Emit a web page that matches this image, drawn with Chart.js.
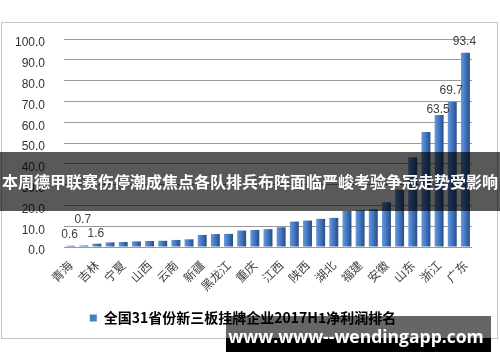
<!DOCTYPE html>
<html>
<head>
<meta charset="utf-8">
<script src="https://cdn.jsdelivr.net/npm/chart.js@4"></script>
<style>
  html, body { margin: 0; padding: 0; background: #fff; }
  #wrap { position: relative; width: 500px; height: 362px; overflow: hidden; }
  #frame { position: absolute; left: 1px; top: 22px; width: 495px; height: 315px; border: 1px solid #c4c4c4; }
  canvas { position: absolute; left: 0; top: 0; }
  #banner {
    position: absolute; left: 0; top: 152px; width: 500px; height: 59px;
    background: rgba(0, 0, 0, 0.65); color: #fff;
    font: bold 16px "Noto Sans CJK SC", sans-serif; line-height: 59px;
    text-align: center; white-space: nowrap; letter-spacing: 0;
  }
  #mark-top { position: absolute; left: 226px; top: 316px; width: 265px; height: 22px; background: rgba(0,0,0,0.6); }
  #mark-bot { position: absolute; left: 226px; top: 338px; width: 265px; height: 14px; background: #000; }
  #mark-text {
    position: absolute; left: 226px; top: 324px; width: 260px; text-align: center;
    color: #fff; font: bold 17.5px "Open Sans", sans-serif; line-height: 24px; white-space: nowrap;
  }
</style>
</head>
<body>
<div id="wrap">
  <div id="frame"></div>
  <canvas id="c" width="500" height="362"></canvas>
  <div id="banner">本周德甲联赛伤停潮成焦点各队排兵布阵面临严峻考验争冠走势受影响</div>
  <div id="mark-top"></div>
  <div id="mark-bot"></div>
  <div id="mark-text">www.www--wendingapp.com</div>
</div>
<script>
// 省份（按净利润从低到高）
const provinces = ['青海', '西藏', '吉林', '甘肃', '宁夏', '内蒙古', '山西', '海南', '云南', '贵州',
  '新疆', '广西', '黑龙江', '辽宁', '重庆', '天津', '江西', '河北', '陕西', '河南',
  '湖北', '湖南', '福建', '四川', '安徽', '上海', '山东', '北京', '浙江', '江苏', '广东'];

const profits = [0.6, 0.7, 1.6, 2.2, 2.4, 2.7, 2.9, 3.0, 3.4, 3.7,
  5.8, 6.2, 6.3, 7.9, 8.2, 8.6, 9.5, 12.2, 12.7, 13.5,
  14.0, 17.3, 17.7, 18.1, 21.5, 27.5, 43.1, 55.3, 63.5, 69.7, 93.4];

// 图上标注的数值（其余不标）
const valueLabels = ['0.6', '0.7', '1.6', null, null, null, null, null, null, null,
  null, null, null, null, null, null, null, null, null, null,
  null, null, null, null, null, null, null, null, '63.5', '69.7', '93.4'];

const yTicks = [0, 10, 20, 30, 40, 50, 60, 70, 80, 90, 100];
const seriesName = '全国31省份新三板挂牌企业2017H1净利润排名';

// 标注离柱顶的距离
const labelLift = { 0: 5, 1: 20, 2: 4, 28: -1, 29: 5, 30: 5 };

const valueLabelPlugin = {
  id: 'valueLabels',
  afterDatasetsDraw(chart) {
    const ctx = chart.ctx;
    const meta = chart.getDatasetMeta(0);
    ctx.save();
    ctx.font = '12px "Liberation Sans", sans-serif';
    ctx.fillStyle = '#404040';
    ctx.textAlign = 'center';
    ctx.textBaseline = 'bottom';
    meta.data.forEach((bar, i) => {
      if (!valueLabels[i]) return;
      ctx.fillText(valueLabels[i], bar.x - 1, bar.y - labelLift[i]);
    });
    ctx.restore();
  }
};

function barFill(context) {
  const chart = context.chart;
  const xs = chart.scales.x;
  if (!xs || xs.width === 0 || context.dataIndex === undefined) return '#3d6fb8';
  const cx = xs.getPixelForValue(context.dataIndex);
  const g = chart.ctx.createLinearGradient(cx - 5, 0, cx + 5, 0);
  g.addColorStop(0, '#6c9ee0');
  g.addColorStop(0.45, '#4679c4');
  g.addColorStop(1, '#24497f');
  return g;
}

const ctx = document.getElementById('c').getContext('2d');
new Chart(ctx, {
  type: 'bar',
  data: {
    labels: provinces,
    datasets: [{
      label: seriesName,
      data: profits,
      backgroundColor: barFill,
      borderWidth: 0,
      barPercentage: 0.68,
      categoryPercentage: 1
    }]
  },
  options: {
    responsive: false,
    animation: false,
    layout: { padding: { left: 14, right: 28, top: 39, bottom: 27 } },
    plugins: {
      tooltip: { enabled: false },
      legend: {
        position: 'bottom',
        labels: {
          boxWidth: 7, boxHeight: 7, padding: 10,
          color: '#111',
          font: { family: '"Noto Sans CJK SC", sans-serif', size: 14, weight: 'bold' },
          generateLabels: () => [{ text: seriesName, fillStyle: '#4a7cc4', strokeStyle: '#4a7cc4', lineWidth: 0 }]
        }
      }
    },
    scales: {
      x: {
        afterFit: (axis) => { axis.height = 54; },
        grid: { display: false },
        border: { display: false },
        ticks: {
          autoSkip: false, maxRotation: 45, minRotation: 45, padding: 3,
          color: '#444',
          font: { family: '"Noto Sans CJK SC", serif', size: 12 },
          callback: (v, i) => (i % 2 === 0 ? provinces[i] : '')
        }
      },
      y: {
        min: 0, max: 100,
        afterBuildTicks: (axis) => { axis.ticks = yTicks.map(v => ({ value: v })); },
        afterFit: (axis) => { axis.width = 50; },
        grid: { color: '#9a9a9a', drawTicks: false },
        border: { display: false },
        ticks: {
          padding: 19, labelOffset: 4,
          color: '#333',
          font: { family: '"Liberation Sans", sans-serif', size: 12 },
          callback: (v) => v.toFixed(1)
        }
      }
    }
  },
  plugins: [valueLabelPlugin]
});
</script>
</body>
</html>
